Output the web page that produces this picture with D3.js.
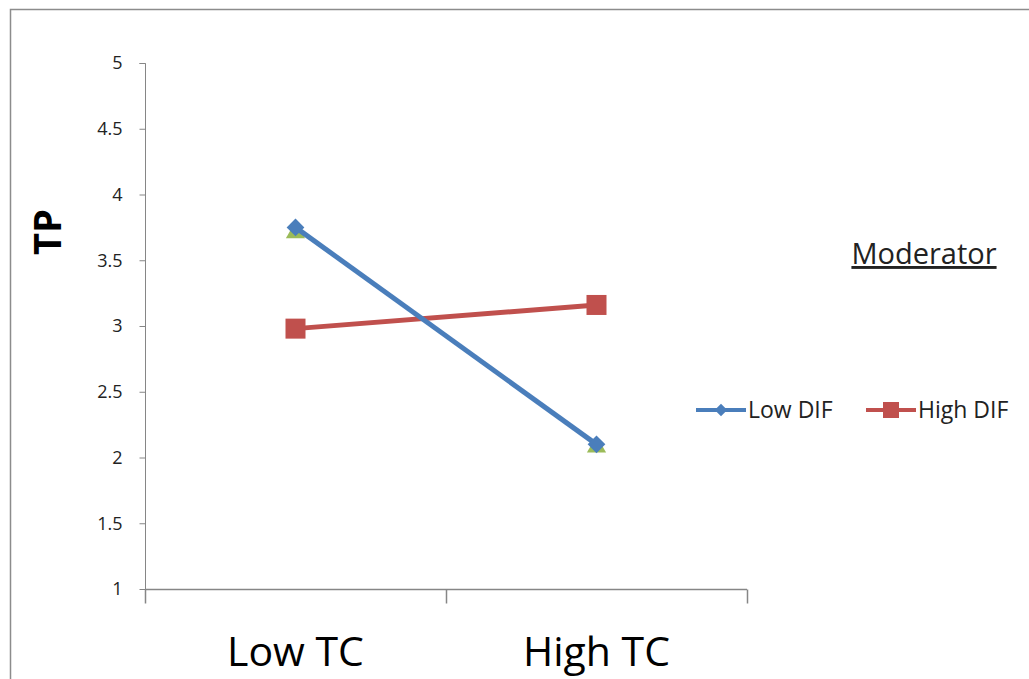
<!DOCTYPE html>
<html>
<head>
<meta charset="utf-8">
<script src="https://cdn.jsdelivr.net/npm/d3@7"></script>
<style>
  body { margin: 0; background: #fff; }
  text { font-family: "Open Sans", "Liberation Sans", sans-serif; }
</style>
</head>
<body>
<svg id="chart" width="1029" height="679"></svg>
<script>
// data
const categories = ["Low TC", "High TC"];
const lowDif = [3.75, 2.1];
const highDif = [2.98, 3.16];
const hidden = [3.71, 2.08]; // green triangles peeking out under the blue diamonds
const yTicks = [1, 1.5, 2, 2.5, 3, 3.5, 4, 4.5, 5];
const yTickLabels = ["1", "1.5", "2", "2.5", "3", "3.5", "4", "4.5", "5"];
const legendNames = ["Low DIF", "High DIF"];

const svg = d3.select("#chart");

// outer chart frame
svg.append("rect")
    .attr("x", 10.5).attr("y", 9.5)
    .attr("width", 1040).attr("height", 700)
    .attr("fill", "none")
    .attr("stroke", "#8c8c8c")
    .attr("stroke-width", 1.5);

const plotL = 145, plotR = 747, plotT = 63, plotB = 589;

const x = d3.scaleBand().domain(categories).range([plotL, plotR]);
const y = d3.scaleLinear().domain([1, 5]).range([plotB, plotT]);

// y axis
const yAxis = d3.axisLeft(y)
    .tickValues(yTicks)
    .tickFormat((d, i) => yTickLabels[i])
    .tickSize(6)
    .tickPadding(17);
const gy = svg.append("g").attr("transform", `translate(${plotL + 0.5},0)`).call(yAxis);
gy.select(".domain").attr("stroke", "#868686").attr("d", `M-6,${plotT + 0.5}H0V${plotB + 0.5}`);
gy.selectAll(".tick line").attr("stroke", "#868686");
gy.selectAll(".tick text").attr("fill", "#222").style("font-size", "18px");

// x axis: ticks between categories, pointing down
const gx = svg.append("g").attr("transform", `translate(0,${plotB + 0.5})`);
gx.append("line")
    .attr("x1", plotL).attr("x2", plotR)
    .attr("stroke", "#868686").attr("stroke-width", 1.5);
const xTickPos = [plotL, plotL + x.bandwidth(), plotR];
gx.selectAll(".xt").data(xTickPos).enter().append("line")
    .attr("x1", d => d + 0.5).attr("x2", d => d + 0.5)
    .attr("y1", 0).attr("y2", 14)
    .attr("stroke", "#868686").attr("stroke-width", 1.5);
gx.selectAll(".xl").data(categories).enter().append("text")
    .attr("x", d => x(d) + x.bandwidth() / 2)
    .attr("y", 76)
    .attr("text-anchor", "middle")
    .attr("fill", "#000")
    .style("font-size", "41px")
    .text(d => d);

// y title
svg.append("text")
    .attr("transform", "translate(61,232) rotate(-90)")
    .attr("text-anchor", "middle")
    .style("font-size", "38px")
    .style("font-weight", "bold")
    .text("TP");

const cx = d => x(d) + x.bandwidth() / 2;
const line = d3.line().x((d, i) => cx(categories[i])).y(d => y(d));

// green series: only its markers show
svg.selectAll(".tri").data(hidden).enter().append("path")
    .attr("d", d3.symbol(d3.symbolTriangle, 160))
    .attr("transform", (d, i) => `translate(${cx(categories[i])},${y(d)})`)
    .attr("fill", "#9bbb59");

// High DIF
svg.append("path").datum(highDif)
    .attr("d", line).attr("fill", "none")
    .attr("stroke", "#c0504d").attr("stroke-width", 5);
svg.selectAll(".sq").data(highDif).enter().append("rect")
    .attr("x", (d, i) => cx(categories[i]) - 10)
    .attr("y", d => y(d) - 10)
    .attr("width", 20).attr("height", 20)
    .attr("fill", "#c0504d");

// Low DIF
svg.append("path").datum(lowDif)
    .attr("d", line).attr("fill", "none")
    .attr("stroke", "#4a7ebb").attr("stroke-width", 5);
svg.selectAll(".dia").data(lowDif).enter().append("path")
    .attr("d", d3.symbol(d3.symbolDiamond2, 200))
    .attr("transform", (d, i) => `translate(${cx(categories[i])},${y(d)})`)
    .attr("fill", "#4a7ebb");

// legend title
svg.append("text")
    .attr("x", 924).attr("y", 264)
    .attr("text-anchor", "middle")
    .attr("fill", "#222")
    .style("font-size", "29px")
    .style("text-decoration", "underline")
    .text("Moderator");

// legend entries
const legendX = [696, 866];
const legendColors = ["#4a7ebb", "#c0504d"];
const lg = svg.selectAll(".lg").data(legendNames).enter().append("g")
    .attr("transform", (d, i) => `translate(${legendX[i]},410)`);
lg.append("line")
    .attr("x1", 0).attr("x2", 50)
    .attr("stroke", (d, i) => legendColors[i]).attr("stroke-width", 4);
lg.each(function(d, i) {
    const g = d3.select(this);
    if (i === 0) {
        g.append("path").attr("d", d3.symbol(d3.symbolDiamond2, 100))
            .attr("transform", "translate(25,0)").attr("fill", legendColors[i]);
    } else {
        g.append("rect").attr("x", 17).attr("y", -8).attr("width", 16).attr("height", 16)
            .attr("fill", legendColors[i]);
    }
});
lg.append("text")
    .attr("x", 52).attr("y", 8)
    .attr("fill", "#222")
    .style("font-size", "23px")
    .text(d => d);
</script>
</body>
</html>
